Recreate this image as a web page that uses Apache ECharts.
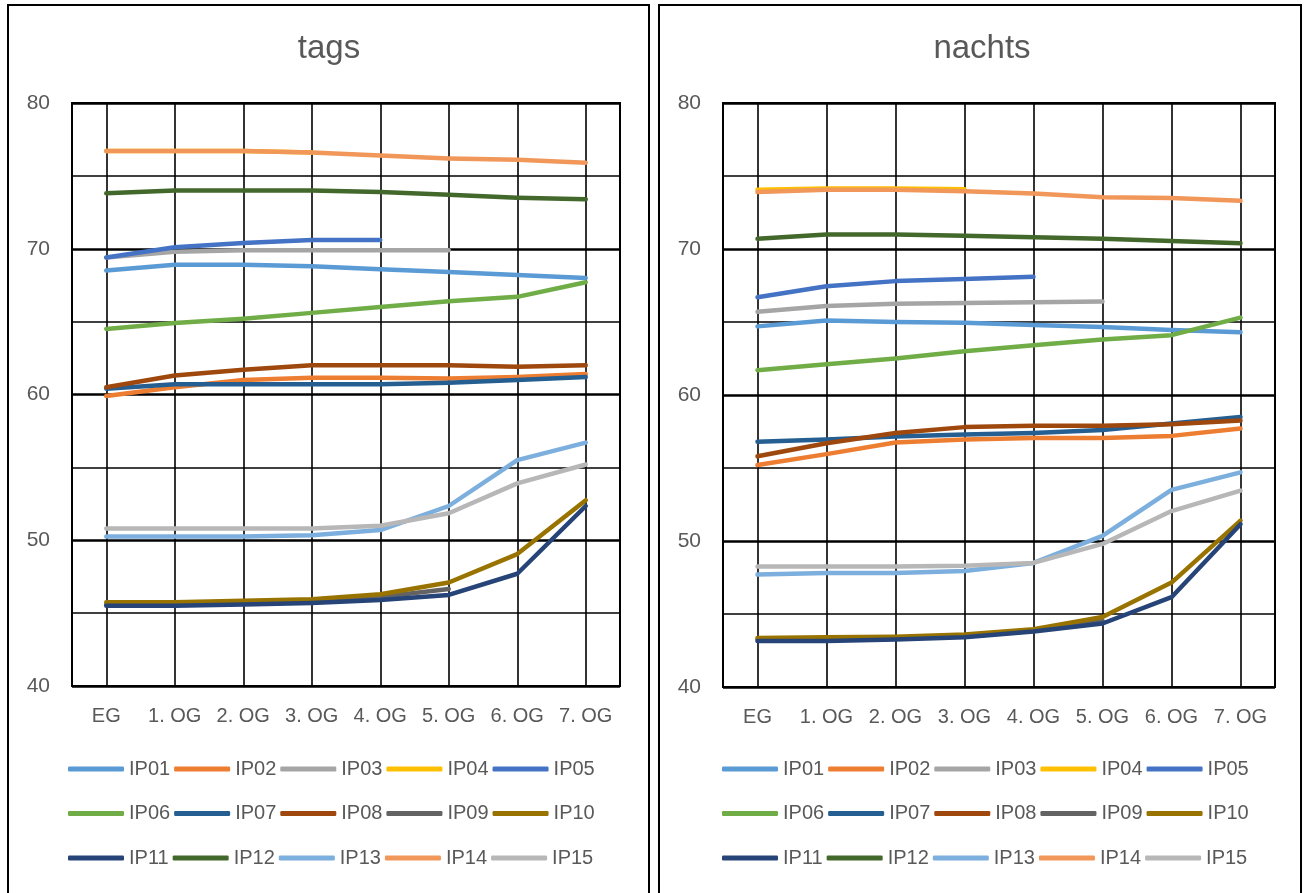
<!DOCTYPE html>
<html>
<head>
<meta charset="utf-8">
<script src="https://cdn.jsdelivr.net/npm/echarts@6/dist/echarts.min.js"></script>
<style>
html,body{margin:0;padding:0;background:#fff;}
#c{width:1310px;height:893px;}
</style>
</head>
<body>
<div id="c"></div>
<script>
const categories = ['EG','1. OG','2. OG','3. OG','4. OG','5. OG','6. OG','7. OG'];
const seriesNames = ['IP01','IP02','IP03','IP04','IP05','IP06','IP07','IP08','IP09','IP10','IP11','IP12','IP13','IP14','IP15'];
const colors = ['#5B9BD5','#ED7D31','#A5A5A5','#FFC000','#4472C4','#70AD47','#255E91','#9E480E','#636363','#997300','#264478','#43682B','#7CAFDD','#F1975A','#B7B7B7'];
const yTicks = [40,50,60,70,80];
const titles = ['tags','nachts'];

// tags (day)
const tagsIP01 = [68.5,68.9,68.9,68.8,68.6,68.4,68.2,68.0];
const tagsIP02 = [59.9,60.5,61.0,61.15,61.15,61.1,61.2,61.4];
const tagsIP03 = [69.4,69.8,69.9,69.9,69.9,69.9,null,null];
const tagsIP04 = [76.7,76.7,76.7,76.6,null,null,null,null];
const tagsIP05 = [69.4,70.1,70.4,70.6,70.6,null,null,null];
const tagsIP06 = [64.5,64.9,65.2,65.6,66.0,66.4,66.7,67.7];
const tagsIP07 = [60.4,60.7,60.7,60.7,60.7,60.8,61.0,61.2];
const tagsIP08 = [60.5,61.3,61.7,62.0,62.0,62.0,61.9,62.0];
const tagsIP09 = [45.6,45.6,45.7,45.8,46.1,46.65,null,null];
const tagsIP10 = [45.75,45.75,45.85,45.95,46.3,47.1,49.05,52.75];
const tagsIP11 = [45.5,45.5,45.6,45.7,45.9,46.25,47.7,52.35];
const tagsIP12 = [73.8,74.0,74.0,74.0,73.9,73.7,73.5,73.4];
const tagsIP13 = [50.25,50.25,50.25,50.35,50.7,52.35,55.5,56.7];
const tagsIP14 = [76.7,76.7,76.7,76.6,76.4,76.2,76.1,75.9];
const tagsIP15 = [50.8,50.8,50.8,50.8,51.0,51.85,53.9,55.2];

// nachts (night)
const nachtsIP01 = [64.7,65.1,65.0,64.95,64.8,64.65,64.45,64.3];
const nachtsIP02 = [55.2,55.95,56.75,56.95,57.05,57.05,57.2,57.7];
const nachtsIP03 = [65.7,66.1,66.25,66.3,66.35,66.4,null,null];
const nachtsIP04 = [74.05,74.15,74.15,74.1,null,null,null,null];
const nachtsIP05 = [66.7,67.45,67.8,67.95,68.1,null,null,null];
const nachtsIP06 = [61.7,62.1,62.5,63.0,63.4,63.8,64.1,65.3];
const nachtsIP07 = [56.8,56.95,57.15,57.3,57.4,57.6,58.05,58.5];
const nachtsIP08 = [55.8,56.7,57.4,57.8,57.9,57.9,58.0,58.25];
const nachtsIP09 = [43.25,43.27,43.33,43.5,43.85,44.55,null,null];
const nachtsIP10 = [43.35,43.4,43.45,43.6,43.95,44.8,47.15,51.4];
const nachtsIP11 = [43.15,43.15,43.25,43.4,43.8,44.35,46.15,51.15];
const nachtsIP12 = [70.7,71.0,71.0,70.9,70.8,70.7,70.55,70.4];
const nachtsIP13 = [47.7,47.8,47.8,47.95,48.5,50.35,53.5,54.7];
const nachtsIP14 = [73.9,74.05,74.05,73.95,73.8,73.55,73.5,73.3];
const nachtsIP15 = [48.25,48.25,48.25,48.3,48.5,49.8,52.05,53.45];

const tagsData = [tagsIP01,tagsIP02,tagsIP03,tagsIP04,tagsIP05,tagsIP06,tagsIP07,tagsIP08,tagsIP09,tagsIP10,tagsIP11,tagsIP12,tagsIP13,tagsIP14,tagsIP15];
const nachtsData = [nachtsIP01,nachtsIP02,nachtsIP03,nachtsIP04,nachtsIP05,nachtsIP06,nachtsIP07,nachtsIP08,nachtsIP09,nachtsIP10,nachtsIP11,nachtsIP12,nachtsIP13,nachtsIP14,nachtsIP15];

const FONT = '"Liberation Sans", Arial, sans-serif';
const TXT = '#595959';

const grids = [
  {left:72, right:690, top:103, bottom:207},
  {left:723, right:35, top:103, bottom:206}
];
const panels = [
  {x:8, w:641, titleX:324, legendLeft:68},
  {x:659, w:642, titleX:977, legendLeft:722}
];

const option = {
  animation:false,
  color: colors,
  graphic: panels.map(p => ({type:'rect', shape:{x:p.x, y:5, width:p.w, height:900}, style:{fill:'none', stroke:'#000', lineWidth:2}, z:-1})),
  title: titles.map((t,i) => ({text:t, left:panels[i].titleX, top:27, textAlign:'center', textStyle:{fontFamily:FONT, fontSize:33, fontWeight:'normal', color:TXT}})),
  grid: grids.map(g => Object.assign({show:true, borderColor:'#000', borderWidth:2, backgroundColor:'transparent'}, g)),
  xAxis: [0,1].map(i => ({
    type:'category', gridIndex:i, data:categories, boundaryGap:true,
    axisLine:{show:true, lineStyle:{color:'#000', width:2}},
    axisTick:{show:false},
    axisLabel:{fontFamily:FONT, fontSize:20, color:TXT, margin:20, interval:0},
    splitLine:{show:true, interval:0, alignWithLabel:true, lineStyle:{color:'#000', width:1.6}}
  })),
  yAxis: [0,1].map(i => ({
    type:'value', gridIndex:i, min:yTicks[0], max:yTicks[yTicks.length-1], interval:10,
    axisLine:{show:true, lineStyle:{color:'#000', width:2}},
    axisTick:{show:false},
    axisLabel:{fontFamily:FONT, fontSize:21, color:TXT, margin:22},
    splitLine:{show:true, lineStyle:{color:'#000', width:2.5}},
    minorTick:{show:false, splitNumber:2},
    minorSplitLine:{show:true, lineStyle:{color:'#000', width:1.6}}
  })),
  legend: [],
  series: []
};

[0,1].forEach(p => {
  for (let r = 0; r < 3; r++) {
    option.legend.push({
      left: panels[p].legendLeft, top: 759 + r*44.5, padding:0,
      orient:'horizontal', icon:'roundRect', itemWidth:56, itemHeight:5, itemGap:4,
      textStyle:{fontFamily:FONT, fontSize:20, color:TXT, width:41, padding:[0,0,0,0]},
      data: seriesNames.slice(r*5, r*5+5),
      selectedMode:false
    });
  }
});

[tagsData, nachtsData].forEach((set, p) => {
  set.forEach((vals, k) => {
    option.series.push({
      name: seriesNames[k], type:'line', xAxisIndex:p, yAxisIndex:p,
      data: vals, symbol:'none', showSymbol:false, connectNulls:false,
      lineStyle:{width:4.5, color:colors[k], cap:'round', join:'round'},
      itemStyle:{color:colors[k]},
      emphasis:{disabled:true}
    });
  });
});

const chart = echarts.init(document.getElementById('c'), null, {renderer:'canvas'});
chart.setOption(option);
</script>
</body>
</html>
